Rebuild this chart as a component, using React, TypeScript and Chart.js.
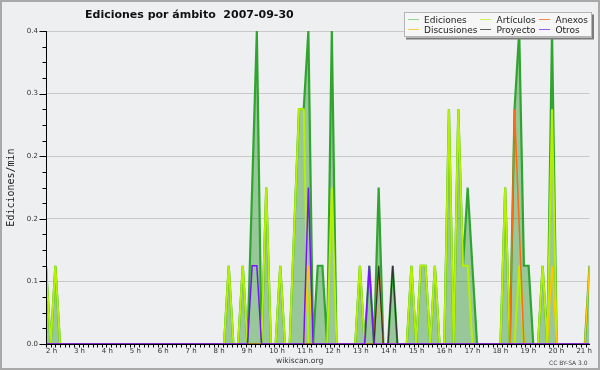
import React, { useEffect, useRef } from 'react';
import { Chart, registerables } from 'chart.js';

Chart.register(...registerables);

// ---- data (one point every 24/143 h, starting at 02:00) ----
const START_HOUR = 2;
const STEP_HOURS = 24 / 143;
const LAST_INDEX = 116;
const X_MAX_HOUR = START_HOUR + LAST_INDEX * STEP_HOURS;

const TITLE = 'Ediciones por ámbito  2007-09-30';
const Y_TITLE = 'Ediciones/min';
const SERIES_NAMES = ['Ediciones', 'Artículos', 'Anexos', 'Discusiones', 'Proyecto', 'Otros'];

const EDICIONES = [
  0.1, 0, 0.1, 0, 0, 0, 0, 0, 0, 0,
  0, 0, 0, 0, 0, 0, 0, 0, 0, 0,
  0, 0, 0, 0, 0, 0, 0, 0, 0, 0,
  0, 0, 0, 0, 0, 0, 0, 0, 0, 0.1,
  0, 0, 0.1, 0, 0.2, 0.4, 0, 0.2, 0, 0,
  0.1, 0, 0, 0.15, 0.3, 0.3, 0.4, 0, 0.1, 0.1,
  0, 0.4, 0, 0, 0, 0, 0, 0.1, 0, 0.1,
  0, 0.2, 0, 0, 0.1, 0, 0, 0, 0.1, 0,
  0.1, 0.1, 0, 0.1, 0, 0, 0.3, 0, 0.3, 0.1,
  0.2, 0.1, 0, 0, 0, 0, 0, 0, 0.2, 0,
  0.3, 0.4, 0.1, 0.1, 0, 0, 0.1, 0, 0.4, 0,
  0, 0, 0, 0, 0, 0, 0.1,
];

const ARTICULOS = [
  0.1, 0, 0.1, 0, 0, 0, 0, 0, 0, 0,
  0, 0, 0, 0, 0, 0, 0, 0, 0, 0,
  0, 0, 0, 0, 0, 0, 0, 0, 0, 0,
  0, 0, 0, 0, 0, 0, 0, 0, 0, 0.1,
  0, 0, 0.1, 0, 0, 0, 0, 0.2, 0, 0,
  0.1, 0, 0, 0.15, 0.3, 0.3, 0, 0, 0, 0,
  0, 0.2, 0, 0, 0, 0, 0, 0.1, 0, 0,
  0, 0, 0, 0, 0, 0, 0, 0, 0.1, 0,
  0.1, 0.1, 0, 0.1, 0, 0, 0.3, 0, 0.3, 0.1,
  0.1, 0, 0, 0, 0, 0, 0, 0, 0.2, 0,
  0, 0.1, 0, 0, 0, 0, 0.1, 0, 0.3, 0,
  0, 0, 0, 0, 0, 0, 0,
];

const ANEXOS = [
  0, 0, 0, 0, 0, 0, 0, 0, 0, 0,
  0, 0, 0, 0, 0, 0, 0, 0, 0, 0,
  0, 0, 0, 0, 0, 0, 0, 0, 0, 0,
  0, 0, 0, 0, 0, 0, 0, 0, 0, 0,
  0, 0, 0, 0, 0, 0, 0, 0, 0, 0,
  0, 0, 0, 0, 0, 0, 0, 0, 0, 0,
  0, 0, 0, 0, 0, 0, 0, 0, 0, 0,
  0, 0.1, 0, 0, 0, 0, 0, 0, 0, 0,
  0, 0, 0, 0, 0, 0, 0, 0, 0, 0,
  0, 0, 0, 0, 0, 0, 0, 0, 0, 0,
  0.3, 0.15, 0, 0, 0, 0, 0, 0, 0, 0,
  0, 0, 0, 0, 0, 0, 0,
];

const DISCUSIONES = [
  0, 0, 0, 0, 0, 0, 0, 0, 0, 0,
  0, 0, 0, 0, 0, 0, 0, 0, 0, 0,
  0, 0, 0, 0, 0, 0, 0, 0, 0, 0,
  0, 0, 0, 0, 0, 0, 0, 0, 0, 0,
  0, 0, 0, 0, 0, 0, 0, 0, 0, 0,
  0, 0, 0, 0, 0, 0, 0.1, 0, 0, 0,
  0, 0, 0, 0, 0, 0, 0, 0, 0, 0,
  0, 0, 0, 0, 0, 0, 0, 0, 0, 0,
  0, 0, 0, 0, 0, 0, 0, 0, 0, 0,
  0, 0, 0, 0, 0, 0, 0, 0, 0, 0,
  0, 0, 0, 0, 0, 0, 0, 0, 0.1, 0,
  0, 0, 0, 0, 0, 0, 0.1,
];

const PROYECTO = [
  0, 0, 0, 0, 0, 0, 0, 0, 0, 0,
  0, 0, 0, 0, 0, 0, 0, 0, 0, 0,
  0, 0, 0, 0, 0, 0, 0, 0, 0, 0,
  0, 0, 0, 0, 0, 0, 0, 0, 0, 0,
  0, 0, 0, 0, 0, 0, 0, 0, 0, 0,
  0, 0, 0, 0, 0, 0, 0, 0, 0, 0,
  0, 0, 0, 0, 0, 0, 0, 0, 0, 0,
  0, 0.1, 0, 0, 0.1, 0, 0, 0, 0, 0,
  0, 0, 0, 0, 0, 0, 0, 0, 0, 0,
  0, 0, 0, 0, 0, 0, 0, 0, 0, 0,
  0, 0, 0, 0, 0, 0, 0, 0, 0, 0,
  0, 0, 0, 0, 0, 0, 0,
];

const OTROS = [
  0, 0, 0, 0, 0, 0, 0, 0, 0, 0,
  0, 0, 0, 0, 0, 0, 0, 0, 0, 0,
  0, 0, 0, 0, 0, 0, 0, 0, 0, 0,
  0, 0, 0, 0, 0, 0, 0, 0, 0, 0,
  0, 0, 0, 0, 0.1, 0.1, 0, 0, 0, 0,
  0, 0, 0, 0, 0, 0, 0.2, 0, 0, 0,
  0, 0, 0, 0, 0, 0, 0, 0, 0, 0.1,
  0, 0, 0, 0, 0, 0, 0, 0, 0, 0,
  0, 0, 0, 0, 0, 0, 0, 0, 0, 0,
  0, 0, 0, 0, 0, 0, 0, 0, 0, 0,
  0, 0, 0, 0, 0, 0, 0, 0, 0, 0,
  0, 0, 0, 0, 0, 0, 0,
];

const Y_MAX = 0.4;
const Y_MAJOR = 0.08;
const Y_MINOR = 0.02;
const X_MINOR = 1 / 6;

// ---- styles ----
const BG = '#eeeff1';
const SERIES_COLORS = ['#2fa52f', '#b4f000', '#ff6a10', '#ffc800', '#333333', '#7a10ff'];
const LEGEND_COLORS = ['#8fd48f', '#ccf05a', '#f08a50', '#f5d050', '#606060', '#9a5cf0'];
const SERIES_WIDTHS = [2.2, 2, 1.5, 1.5, 1.2, 1.5];
const FONT = '"DejaVu Sans", sans-serif';

const SERIES_VALUES = [EDICIONES, ARTICULOS, ANEXOS, DISCUSIONES, PROYECTO, OTROS];

const isMajorY = (v: number) => Math.abs(v / Y_MAJOR - Math.round(v / Y_MAJOR)) < 1e-6;

const decor = {
  id: 'decor',
  beforeDraw(chart: any) {
    const ctx = chart.ctx;
    ctx.save();
    ctx.fillStyle = BG;
    ctx.fillRect(0, 0, chart.width, chart.height);
    ctx.restore();
  },
  afterDatasetsDraw(chart: any) {
    const ctx = chart.ctx;
    const a = chart.chartArea;
    const xs = chart.scales.x;
    const ys = chart.scales.y;
    ctx.save();
    ctx.strokeStyle = '#000';
    ctx.lineWidth = 1;
    ctx.beginPath();
    const L = Math.round(a.left) + 0.5;
    const B = Math.round(a.bottom) + 0.5;
    ctx.moveTo(L, Math.round(a.top));
    ctx.lineTo(L, B);
    ctx.lineTo(Math.round(a.right), B);
    for (let i = 0; i * Y_MINOR <= Y_MAX + 1e-9; i++) {
      const v = i * Y_MINOR;
      const py = Math.round(ys.getPixelForValue(v)) + 0.5;
      const len = i % 4 === 0 ? 7 : 4;
      ctx.moveTo(L - len, py);
      ctx.lineTo(L, py);
    }
    for (let i = 0; START_HOUR + i * X_MINOR <= X_MAX_HOUR + 1e-9; i++) {
      const px = Math.round(xs.getPixelForValue(START_HOUR + i * X_MINOR)) + 0.5;
      ctx.moveTo(px, B);
      ctx.lineTo(px, B + 3);
    }
    ctx.stroke();
    ctx.restore();
  },
  afterDraw(chart: any) {
    const ctx = chart.ctx;
    ctx.save();
    ctx.strokeStyle = '#a9a9a9';
    ctx.lineWidth = 2;
    ctx.strokeRect(1, 1, chart.width - 2, chart.height - 2);

    ctx.fillStyle = '#111';
    ctx.font = `bold 11px ${FONT}`;
    ctx.textAlign = 'left';
    ctx.textBaseline = 'alphabetic';
    ctx.fillText(TITLE, 85, 18);

    ctx.save();
    ctx.translate(14, 187.5);
    ctx.rotate(-Math.PI / 2);
    ctx.font = '10px "DejaVu Sans Mono", monospace';
    ctx.textAlign = 'center';
    ctx.fillStyle = '#222';
    ctx.fillText(Y_TITLE, 0, 0);
    ctx.restore();

    ctx.fillStyle = '#7a7a7a';
    ctx.fillRect(406, 14.5, 188, 25);
    ctx.fillStyle = '#f6f6f6';
    ctx.fillRect(404, 12.5, 188, 25);
    ctx.strokeStyle = '#b4b4b4';
    ctx.lineWidth = 1;
    ctx.strokeRect(404.5, 12.5, 187, 24);
    const colLine = [408, 480, 539];
    const colText = [424, 496.5, 555.5];
    const rowLine = [18.5, 29];
    const rowText = [22.5, 32.5];
    ctx.font = `9px ${FONT}`;
    ctx.textAlign = 'left';
    for (let i = 0; i < SERIES_NAMES.length; i++) {
      const c = i % 3;
      const r = Math.floor(i / 3);
      ctx.strokeStyle = LEGEND_COLORS[i];
      ctx.lineWidth = 1;
      ctx.beginPath();
      ctx.moveTo(colLine[c], Math.round(rowLine[r]) + 0.5);
      ctx.lineTo(colLine[c] + 11, Math.round(rowLine[r]) + 0.5);
      ctx.stroke();
      ctx.fillStyle = '#222';
      ctx.fillText(SERIES_NAMES[i], colText[c], rowText[r]);
    }

    ctx.fillStyle = '#333';
    ctx.font = `7.6px ${FONT}`;
    ctx.fillText('wikiscan.org', 276, 363);
    ctx.font = `6px ${FONT}`;
    ctx.fillStyle = '#444';
    ctx.fillText('CC BY-SA 3.0', 549, 365);
    ctx.restore();
  },
};

export default function App() {
  const ref = useRef<HTMLCanvasElement | null>(null);

  useEffect(() => {
    if (!ref.current) return;
    const datasets = SERIES_VALUES.map((vals, i) => ({
      label: SERIES_NAMES[i],
      data: vals.map((v, k) => ({ x: START_HOUR + k * STEP_HOURS, y: v })),
      borderColor: SERIES_COLORS[i],
      borderWidth: SERIES_WIDTHS[i],
      backgroundColor: i === 0 ? 'rgba(0,128,0,0.36)' : 'transparent',
      fill: i === 0 ? 'origin' : false,
      pointRadius: 0,
      tension: 0,
      order: SERIES_NAMES.length - i,
      clip: 0,
    }));

    const chart = new Chart(ref.current, {
      type: 'line',
      data: { datasets },
      options: {
        animation: false,
        responsive: false,
        devicePixelRatio: 1,
        layout: { padding: { left: 0, right: 10.5, top: 31, bottom: 0 } },
        plugins: {
          legend: { display: false },
          title: { display: false },
          tooltip: { enabled: false },
        },
        scales: {
          x: {
            type: 'linear',
            min: START_HOUR,
            max: X_MAX_HOUR,
            afterBuildTicks: (s: any) => {
              const t = [];
              for (let i = 0; START_HOUR + i * X_MINOR <= X_MAX_HOUR + 1e-9; i++) {
                t.push({ value: START_HOUR + i * X_MINOR });
              }
              s.ticks = t;
            },
            ticks: {
              autoSkip: false,
              maxRotation: 0,
              minRotation: 0,
              align: 'start',
              padding: 3,
              color: '#333',
              font: { family: FONT, size: 7 },
              callback: (v: any) => {
                const n = Number(v);
                return Math.abs(n - Math.round(n)) < 1e-6 ? `${Math.round(n)} h` : '';
              },
            },
            grid: { display: false, drawTicks: false },
            border: { display: false },
            afterFit: (s: any) => {
              s.height = 26;
              s.paddingLeft = 0;
              s.paddingRight = 0;
            },
          },
          y: {
            type: 'linear',
            min: 0,
            max: Y_MAX,
            afterBuildTicks: (s: any) => {
              const t = [];
              for (let i = 0; i * Y_MINOR <= Y_MAX + 1e-9; i++) t.push({ value: i * Y_MINOR });
              s.ticks = t;
            },
            ticks: {
              autoSkip: false,
              padding: 8,
              color: '#333',
              font: { family: FONT, size: 7 },
              callback: (v: any) => (isMajorY(Number(v)) ? Number(v).toFixed(1) : ''),
            },
            grid: {
              drawTicks: false,
              lineWidth: 1,
              color: (c: any) =>
                c.tick && isMajorY(c.tick.value) && c.tick.value > 0 ? '#c9c9c9' : 'rgba(0,0,0,0)',
            },
            border: { display: false },
            afterFit: (s: any) => {
              s.width = 46;
              s.paddingTop = 0;
              s.paddingBottom = 0;
            },
          },
        },
      },
      plugins: [decor],
    } as any);
    return () => chart.destroy();
  }, []);

  return (
    <div style={{ position: 'absolute', left: 0, top: 0, width: 600, height: 370 }}>
      <canvas ref={ref} width={600} height={370} style={{ display: 'block' }} />
    </div>
  );
}
